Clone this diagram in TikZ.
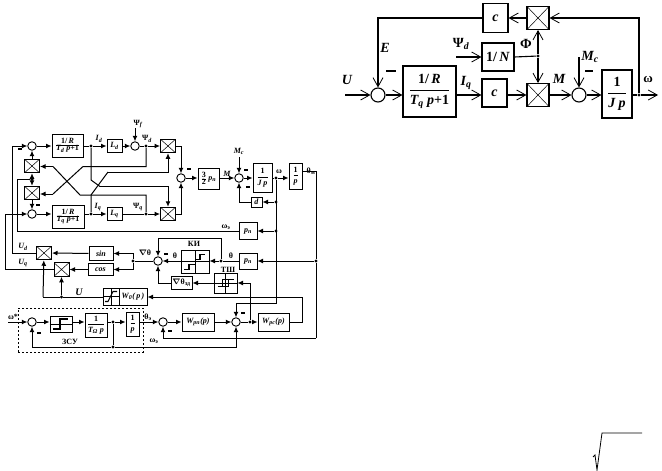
\documentclass[tikz,border=0pt]{standalone}
\usepackage{amsmath}
\usepackage{fontspec}
\setmainfont{Liberation Serif}
\usetikzlibrary{arrows.meta}
\tikzset{
  bigbox/.style={draw,line width=1.1pt,inner sep=0pt,font=\boldmath\bfseries\fontsize{14}{15}\selectfont},
  bigsum/.style={draw,circle,line width=1.1pt,inner sep=0pt,minimum size=14pt},
  bigmult/.style={bigbox,minimum width=22pt,minimum height=23pt,path picture={
    \draw[line width=.5pt] (path picture bounding box.north west)--(path picture bounding box.south east)
      (path picture bounding box.north east)--(path picture bounding box.south west);}},
  biglab/.style={inner sep=0pt,font=\bfseries\itshape\fontsize{14}{15}\selectfont},
  bigsig/.style={line width=1.1pt,-{Straight Barb[length=9pt,width=10pt,line width=.8pt]}},
  bigline/.style={line width=1.1pt},
  smallbox/.style={draw,line width=1pt,inner sep=0pt,font=\boldmath\bfseries\fontsize{8}{9}\selectfont},
  smallsum/.style={draw,circle,line width=.9pt,inner sep=0pt,minimum size=8.5pt},
  smallmult/.style={smallbox,minimum width=15pt,minimum height=13.5pt,path picture={
    \draw[line width=.5pt] (path picture bounding box.north west)--(path picture bounding box.south east)
      (path picture bounding box.north east)--(path picture bounding box.south west);}},
  smalllab/.style={inner sep=0pt,font=\boldmath\bfseries\itshape\fontsize{8}{9}\selectfont},
  sig/.style={line width=1pt,-{Latex[length=5.5pt,width=5pt]}},
  wire/.style={line width=1pt},
  dot/.style={circle,fill=black,inner sep=0pt,minimum size=3.2pt},
  minussign/.style={fill=black,inner sep=0pt,minimum width=4.5pt,minimum height=1.4pt}
}
\begin{document}
\begin{tikzpicture}[x=1pt,y=-1pt]
\useasboundingbox (0,0) rectangle (662,471);
% right diagram
\node[bigsum] (sumU) at (378,95) {};
\node[bigbox,minimum width=53pt,minimum height=51pt] (boxR) at (429.5,91.5) {$\dfrac{\mbox{1/\,\textit{R}}}{\mbox{\textit{T\textsubscript{q} p}+1}}$};
\node[bigbox,minimum width=25pt,minimum height=28pt] (boxC) at (494.5,93) {\textit{c}};
\node[bigmult] (multM) at (538,95) {};
\node[bigsum] (sumM) at (579,95) {};
\node[bigbox,minimum width=30pt,minimum height=48pt] (boxJ) at (617,94) {$\dfrac{\mbox{1}}{\mbox{\textit{J p}}}$};
\node[dot] (dotW) at (639,95) {};
\coordinate (outW) at (658,95);
\coordinate (inU) at (345,95);
\node[bigbox,minimum width=32pt,minimum height=28pt] (boxN) at (498,57) {1/\,\textit{N}};
\node[dot] (dotF) at (538,56) {};
\node[bigmult] (multE) at (538,18) {};
\node[bigbox,minimum width=25pt,minimum height=29pt] (boxCt) at (495.5,18) {\textit{c}};
\coordinate (inPsi) at (456,57);
\coordinate (inMc) at (579,57);
\coordinate (cornW) at (639,18);
\coordinate (cornE) at (378,18);
\draw[bigsig] (inU) -- (sumU);
\draw[bigsig] (sumU) -- (boxR.west|-sumU);
\draw[bigsig] (boxR.east|-sumU) -- (boxC.west|-sumU);
\draw[bigsig] (boxC.east|-sumU) -- (multM);
\draw[bigsig] (multM) -- (sumM);
\draw[bigsig] (sumM) -- (boxJ.west|-sumM);
\draw[bigline] (boxJ.east|-sumM) -- (dotW);
\draw[bigsig] (dotW) -- (outW);
\draw[bigsig] (inPsi) -- (boxN.west);
\draw[bigline] (boxN.east) -- (dotF);
\draw[bigsig] (dotF) -- (multE);
\draw[bigsig] (dotF) -- (multM);
\draw[bigsig] (inMc) -- (sumM);
\draw[bigsig] (dotW) -- (cornW) -- (multE);
\draw[bigsig] (multE) -- (boxCt);
\draw[bigsig] (boxCt) -- (cornE) -- (sumU);
\node[biglab] (labU) at (347,80) {U};
\node[biglab] (labE) at (385,48) {E};
\node[biglab] (labPsi) at (461,44) {\upshape Ψ\textsubscript{\itshape d}};
\node[biglab] (labF) at (526,44) {\upshape Φ};
\node[biglab] (labI) at (466,83) {I\textsubscript{q}};
\node[biglab] (labM) at (559,79) {M};
\node[biglab] (labMc) at (590,57) {M\textsubscript{c}};
\node[biglab,font=\bfseries\fontsize{13}{14}\selectfont] (labW) at (648,80) {ω};
\node[minussign,minimum width=10pt,minimum height=1.8pt] (minU) at (391,71) {};
\node[minussign,minimum width=8pt,minimum height=1.8pt] (minM) at (589,71) {};
% left diagram, current loops
\node[smallsum] (sumD) at (32,146) {};
\node[smallbox,minimum width=31pt,minimum height=23pt] (boxRd) at (67.5,145.5) {$\frac{\mbox{1/\,\textit{R}}}{\mbox{\textit{T\textsubscript{d} p}+1}}$};
\node[dot] (dotId) at (91,146) {};
\node[smallbox,minimum width=15pt,minimum height=13pt] (boxLd) at (114.5,146) {\textit{L\textsubscript{d}}};
\node[smallsum] (sumF) at (135,146) {};
\node[dot] (dotPd) at (146,146) {};
\node[smallmult] (multT) at (168,146) {};
\node[smallmult] (multA) at (32,166) {};
\node[smallmult] (multB) at (32,193) {};
\node[dot] (dotWe) at (32,179.5) {};
\node[smallsum] (sumQ) at (32,214) {};
\node[smallbox,minimum width=32pt,minimum height=23pt] (boxRq) at (68,216.5) {$\frac{\mbox{1/\,\textit{R}}}{\mbox{\textit{T\textsubscript{q} p}+1}}$};
\node[dot] (dotIq) at (91,214) {};
\node[smallbox,minimum width=15pt,minimum height=13pt] (boxLq) at (114.5,214) {\textit{L\textsubscript{q}}};
\node[dot] (dotPq) at (146,214) {};
\node[smallmult] (multL) at (168,214) {};
\node[smallsum] (sumP) at (181,178) {};
\node[smallbox,minimum width=21pt,minimum height=21pt] (boxTp) at (208.5,178.5) {$\frac{\mbox{3}}{\mbox{2}}$\,\textit{p\textsubscript{n}}};
\node[smallsum] (sumW) at (239,178) {};
\node[smallbox,minimum width=19pt,minimum height=29pt] (boxJp) at (262.5,177.5) {$\dfrac{\mbox{1}}{\mbox{\textit{J p}}}$};
\node[dot] (dotW1) at (276,178) {};
\node[smallbox,minimum width=13pt,minimum height=26pt] (boxP) at (295.5,176) {$\dfrac{\mbox{1}}{\mbox{\textit{p}}}$};
\node[smallbox,minimum width=11pt,minimum height=10pt] (boxDa) at (256.5,202) {\textit{d}};
\node[dot] (dotW2) at (276,202) {};
\node[smallbox,minimum width=18pt,minimum height=17pt] (boxPe) at (248,231) {\textit{p\textsubscript{n}}};
\node[dot] (dotW3) at (276,231) {};
\coordinate (inPf) at (135,128);
\coordinate (inMs) at (239,157);
\coordinate (cornL) at (17,231);
\coordinate (cornLt) at (17,179.5);
\coordinate (cornMa) at (181,146);
\coordinate (cornMb) at (181,214);
\coordinate (crIqa) at (91,195);
\coordinate (crIqb) at (108,172);
\coordinate (crIqc) at (168,172);
\coordinate (crIda) at (91,180);
\coordinate (crIdb) at (100,186.5);
\coordinate (crIdc) at (168,186.5);
\coordinate (crPda) at (146,166.5);
\coordinate (crPdb) at (83,166.5);
\coordinate (crPdc) at (53,194);
\coordinate (crPqa) at (146,195);
\coordinate (crPqb) at (80,195);
\coordinate (crPqc) at (53,166.5);
\draw[sig] (sumD) -- (boxRd.west|-sumD);
\draw[wire] (boxRd.east|-sumD) -- (dotId);
\draw[sig] (dotId) -- (boxLd);
\draw[sig] (boxLd) -- (sumF);
\draw[sig] (inPf) -- (sumF);
\draw[wire] (sumF) -- (dotPd);
\draw[sig] (dotPd) -- (multT);
\draw[sig] (sumQ) -- (boxRq.west|-sumQ);
\draw[wire] (boxRq.east|-sumQ) -- (dotIq);
\draw[sig] (dotIq) -- (boxLq);
\draw[wire] (boxLq) -- (dotPq);
\draw[sig] (dotPq) -- (multL);
\draw[sig] (multA) -- (sumD);
\draw[sig] (multB) -- (sumQ);
\draw[sig] (dotWe) -- (multA);
\draw[sig] (dotWe) -- (multB);
\draw[wire] (dotId) -- (crIda) -- (crIdb);
\draw[sig] (crIdb) -- (crIdc) -- (multL);
\draw[wire] (dotIq) -- (crIqa) -- (crIqb);
\draw[sig] (crIqb) -- (crIqc) -- (multT);
\draw[wire] (dotPd) -- (crPda) -- (crPdb) -- (crPdc);
\draw[sig] (crPdc) -- (multB.east|-crPdc);
\draw[wire] (dotPq) -- (crPqa) -- (crPqb) -- (crPqc);
\draw[sig] (crPqc) -- (multA.east|-crPqc);
\draw[sig] (multT) -- (cornMa) -- (sumP);
\draw[sig] (multL) -- (cornMb) -- (sumP);
\draw[sig] (sumP) -- (boxTp.west|-sumP);
\draw[sig] (boxTp.east|-sumP) -- (sumW);
\draw[sig] (sumW) -- (boxJp.west|-sumW);
\draw[wire] (boxJp.east|-sumW) -- (dotW1);
\draw[sig] (dotW1) -- (boxP.west|-dotW1);
\draw[sig] (inMs) -- (sumW);
\draw[sig] (dotW2) -- (boxDa);
\draw[sig] (boxDa) -| (sumW);
\draw[sig] (dotW3) -- (boxPe);
\draw[wire] (boxPe) -- (cornL) -- (cornLt) -- (dotWe);
% left diagram, angle loops
\node[smallmult] (multUd) at (44,253) {};
\node[smallmult] (multUq) at (61.5,269.5) {};
\node[smallbox,minimum width=24pt,minimum height=14pt] (boxSin) at (101,253.5) {\itshape sin};
\node[smallbox,minimum width=25pt,minimum height=12pt] (boxCos) at (100.5,269.5) {\itshape cos};
\node[dot] (dotN) at (133,261) {};
\node[smallsum] (sumT) at (158,261) {};
\node[smallbox,minimum width=28pt,minimum height=23pt] (boxKi) at (195,261.5) {};
\node[dot] (dotT) at (221,261) {};
\node[smallbox,minimum width=18pt,minimum height=16pt] (boxPn) at (248,261) {\textit{p\textsubscript{n}}};
\node[dot] (dotTm) at (316,261) {};
\node[smallbox,minimum width=21pt,minimum height=13pt] (boxNt) at (181.5,283) {$\nabla$θ\textsubscript{зд}};
\node[smallbox,minimum width=23pt,minimum height=20pt] (boxTsh) at (225.5,283) {};
\node[smallbox,minimum width=16pt,minimum height=17pt] (boxWa) at (111,296.5) {};
\node[smallbox,minimum width=28pt,minimum height=17pt] (boxWb) at (133,296.5) {\textit{W\textsubscript{0}(\,p\,)}};
\node[dot] (dotU) at (61.5,297) {};
\node[smallsum] (sumA) at (32,322) {};
\node[smallbox,minimum width=22pt,minimum height=16pt] (boxRel) at (61,324) {};
\node[smallbox,minimum width=22pt,minimum height=24pt] (boxTo) at (96,325) {$\dfrac{\mbox{1}}{\mbox{\textit{T\textsubscript{Ω} p}}}$};
\node[dot] (dotO) at (113,322) {};
\node[smallbox,minimum width=13pt,minimum height=24pt] (boxPi) at (132.5,324) {$\dfrac{\mbox{1}}{\mbox{\textit{p}}}$};
\node[smallsum] (sumB) at (163,322) {};
\node[smallbox,minimum width=32pt,minimum height=18pt] (boxWn) at (198,322) {\textit{W\textsubscript{рп}(p)}};
\node[smallsum] (sumC) at (236,322) {};
\node[dot] (dotC) at (250,322) {};
\node[smallbox,minimum width=31pt,minimum height=18pt] (boxWc) at (273.5,322) {\textit{W\textsubscript{рс}(p)}};
\node[dot] (dotB) at (113,347) {};
\node[draw,line width=1pt,dash pattern=on 2pt off 2pt,inner sep=0pt,minimum width=125pt,minimum height=44pt] (frame) at (80.5,330) {};
\coordinate (cornUd) at (12,253);
\coordinate (cornUdt) at (12,146);
\coordinate (cornUq) at (5,269.5);
\coordinate (cornUqt) at (5,214);
\coordinate (cornN) at (133,253.5);
\coordinate (cornNb) at (133,269.5);
\coordinate (cornT) at (221,238);
\coordinate (cornTl) at (158,238);
\coordinate (cornNl) at (158,283);
\coordinate (cornTsh) at (250,283);
\coordinate (cornWr) at (302,322);
\coordinate (cornWt) at (302,297);
\coordinate (cornUl) at (43,297);
\coordinate (cornWd) at (276,303);
\coordinate (cornWl) at (236,303);
\coordinate (cornTm) at (316,338);
\coordinate (cornTb) at (163,338);
\coordinate (cornPt) at (316,171);
\coordinate (cornFa) at (32,347);
\coordinate (cornFb) at (236,347);
\coordinate (inW) at (8,322);
\draw[sig] (multUd) -- (cornUd) -- (cornUdt) -- (sumD);
\draw[sig] (multUq) -- (cornUq) -- (cornUqt) -- (sumQ);
\draw[sig] (boxSin) -- (multUd);
\draw[sig] (boxCos) -- (multUq);
\draw[wire] (sumT) -- (dotN);
\draw[sig] (dotN) -- (cornN) -- (boxSin);
\draw[sig] (dotN) -- (cornNb) -- (boxCos);
\draw[sig] (boxKi.west|-sumT) -- (sumT);
\draw[sig] (dotT) -- (boxKi.east|-dotT);
\draw[wire] (boxPn) -- (dotT);
\draw[sig] (dotT) -- (cornT) -- (cornTl) -- (sumT);
\draw[sig] (dotTm) -- (boxPn);
\draw[sig] (boxTsh) -- (boxNt);
\draw[sig] (boxNt) -- (cornNl) -- (sumT);
\draw[sig] (dotC) -- (cornTsh) -- (boxTsh);
\draw[wire] (boxP.east|-cornPt) -- (cornPt) -- (dotTm) -- (cornTm);
\draw[sig] (cornTm) -- (cornTb) -- (sumB);
\draw[sig] (inW) -- (sumA);
\draw[sig] (sumA) -- (boxRel.west|-sumA);
\draw[sig] (boxRel.east|-sumA) -- (boxTo.west|-sumA);
\draw[wire] (boxTo.east|-sumA) -- (dotO);
\draw[sig] (dotO) -- (boxPi.west|-sumA);
\draw[wire] (dotO) -- (dotB);
\draw[sig] (boxPi.east|-sumB) -- (sumB);
\draw[sig] (sumB) -- (boxWn);
\draw[sig] (boxWn) -- (sumC);
\draw[wire] (sumC) -- (dotC);
\draw[sig] (dotC) -- (boxWc);
\draw[wire] (boxWc) -- (cornWr) -- (cornWt);
\draw[sig] (cornWt) -- (boxWb.east|-cornWt);
\draw[wire] (boxWa.west|-cornWt) -- (dotU);
\draw[wire] (dotU) -- (cornUl);
\draw[sig] (cornUl) -- (multUd);
\draw[sig,line width=1.3pt] (dotU) -- (multUq);
\draw[sig] (dotW1) -- (cornWd) -- (cornWl) -- (sumC);
\draw[sig] (dotB) -- (cornFa) -- (sumA);
\draw[sig] (dotB) -- (cornFb) -- (sumC);
% characteristic curves in the boxes
\draw[wire,line width=.5pt] (boxKi.south) -- (boxKi.north) (boxKi.west) -- (boxKi.east);
\draw[line width=1.2pt] (boxKi.center) ++(-11,8) -- ++(5,0) -- ++(0,-5) -- ++(6,0)
  (boxKi.center) ++(1,-2) -- ++(4,0) -- ++(0,-5) -- ++(5,0);
\draw[wire,line width=.5pt] (boxTsh.south) -- (boxTsh.north) (boxTsh.west) -- (boxTsh.east);
\draw[line width=1pt] (boxTsh.center) ++(-8,3) -- ++(11,0) -- ++(0,-7) -- ++(5,0)
  (boxTsh.center) ++(-3,4) -- ++(0,-8) -- ++(6,0);
\draw[line width=.5pt] (boxWa.south) -- (boxWa.north) (boxWa.west) -- (boxWa.east);
\draw[line width=1.1pt] (boxWa.center) ++(-6,5) -- ++(3,0) -- ++(5,-10) -- ++(4,0);
\draw[line width=.5pt] (boxRel.west) -- (boxRel.east);
\draw[line width=1.6pt] (boxRel.center) ++(-8,5) -- ++(7,0) -- ++(0,-10) -- ++(8,0);
% labels
\node[smalllab] (labId) at (99,139) {I\textsubscript{d}};
\node[smalllab] (labIq) at (98,207) {I\textsubscript{q}};
\node[smalllab] (labPf) at (138,124) {\upshape Ψ\textsubscript{\itshape f}};
\node[smalllab] (labPd) at (147,139) {\upshape Ψ\textsubscript{\itshape d}};
\node[smalllab] (labPq) at (138,207) {\upshape Ψ\textsubscript{\itshape q}};
\node[smalllab] (labMa) at (227,174) {M};
\node[smalllab] (labMs) at (239,151) {M\textsubscript{c}};
\node[smalllab] (labWa) at (279,172) {\upshape ω};
\node[smalllab] (labTm) at (311,171) {\upshape θ\textsubscript{м}};
\node[smalllab] (labWe) at (226,227) {\upshape ω\textsubscript{э}};
\node[smalllab] (labUd) at (23,247) {U\textsubscript{d}};
\node[smalllab] (labUq) at (23,263) {U\textsubscript{q}};
\node[smalllab] (labNt) at (145,253) {$\nabla$\upshape θ};
\node[smalllab] (labTa) at (175,256) {\upshape θ};
\node[smalllab] (labTb) at (231,256) {\upshape θ};
\node[smalllab] (labKi) at (194,244) {\upshape КИ};
\node[smalllab] (labTs) at (228,270) {\upshape ТШ};
\node[smalllab,font=\bfseries\itshape\fontsize{10}{11}\selectfont] (labUu) at (79,292) {U};
\node[smalllab] (labOm) at (13,317) {\upshape ω*};
\node[smalllab] (labTe) at (148,317) {\upshape θ\textsubscript{э}};
\node[smalllab] (labOe) at (154,341) {\upshape ω\textsubscript{э}};
\node[smalllab] (labZs) at (70,342) {\upshape ЗСУ};
\node[minussign] (minD) at (20,149) {};
\node[minussign] (minQ) at (38,205) {};
\node[minussign] (minP) at (189,169) {};
\node[minussign] (minWa) at (246,170) {};
\node[minussign] (minWb) at (248,187) {};
\node[minussign] (minT) at (166,254) {};
\node[minussign] (minA) at (39,333) {};
\node[minussign] (minB) at (170,331) {};
\node[minussign] (minC) at (243,313) {};
% radical sign at the bottom edge
\draw[line width=.8pt] (593,457) -- (595,455) -- (597,470) -- (602,433) -- (642,433);
\end{tikzpicture}
\end{document}
